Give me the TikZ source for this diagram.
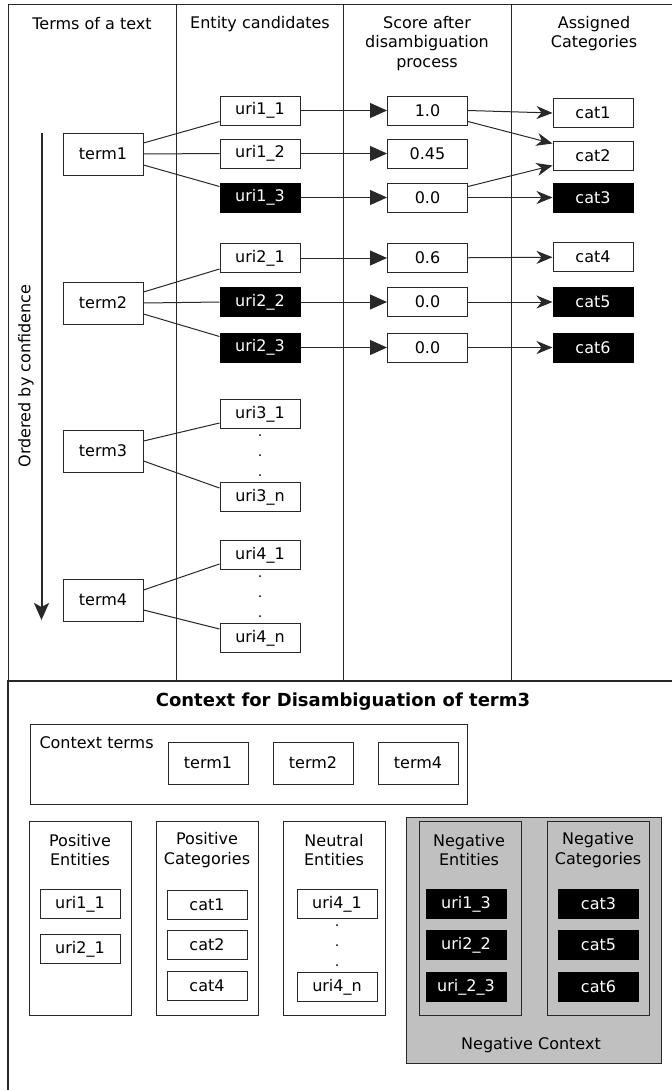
\documentclass[tikz,border=0pt]{standalone}
\usepackage{fontspec}
\setmainfont{DejaVu Sans}
\usetikzlibrary{positioning, arrows.meta}
\definecolor{negbg}{RGB}{192,192,192}
\definecolor{linegray}{RGB}{40,40,40}

\tikzset{
    box/.style={draw=linegray, fill=white, minimum width=80pt, minimum height=29pt, inner sep=0pt},
    blackbox/.style={box, draw=black, fill=black, text=white},
    termbox/.style={box, minimum height=42pt},
    colhead/.style={align=center, inner sep=0pt},
    tolink/.style={-{Triangle[length=17pt,width=15pt]}},
    catlink/.style={-{Stealth[length=16pt,width=13pt,inset=5pt]}}
}

\begin{document}
\begin{tikzpicture}[x=1pt, y=-1pt, font=\fontsize{16}{19.5}\selectfont, line width=1pt, draw=linegray]
    \useasboundingbox (0,0) rectangle (672,1090);

    % Tabella superiore
    \draw (8,4) rectangle (700,680);
    \foreach \x in {176,343,511} \draw (\x,4) -- (\x,680);
    \node[colhead] (hterms) at (92,24) {Terms of a text};
    \node[colhead] (hent) at (260,24) {Entity candidates};
    \node[colhead] (hscore) at (427,43.5) {Score after\\disambiguation\\process};
    \node[colhead] (hcat) at (594,33.5) {Assigned\\Categories};

    % Ordinamento
    \draw[line width=2pt, -{Stealth[length=17pt,width=15pt,inset=4pt]}] (41.5,133) -- (41.5,620);
    \node[rotate=90, inner sep=0pt] (order) at (26,376) {Ordered by confidence};

    % Termini
    \node[termbox] (term1) at (103,154) {term1};
    \node[termbox] (term2) at (103,303) {term2};
    \node[termbox] (term3) at (103,451) {term3};
    \node[termbox] (term4) at (103,600) {term4};

    % Candidati
    \node[box] (uri11) at (260,110.5) {uri1\_1};
    \node[box] (uri12) at (260,153.5) {uri1\_2};
    \node[blackbox] (uri13) at (260,197.5) {uri1\_3};
    \node[box] (uri21) at (260,258) {uri2\_1};
    \node[blackbox] (uri22) at (260,302) {uri2\_2};
    \node[blackbox] (uri23) at (260,347.5) {uri2\_3};
    \node[box] (uri31) at (260,414) {uri3\_1};
    \node[box] (uri3n) at (260,497) {uri3\_n};
    \node[box] (uri41) at (260,555) {uri4\_1};
    \node[box] (uri4n) at (260,638) {uri4\_n};
    \foreach \y in {435,455,475,576,596,616} \fill (260,\y) circle (1pt);

    % Punteggi
    \node[box] (s11) at (427.5,110.5) {1.0};
    \node[box] (s12) at (427.5,153.5) {0.45};
    \node[box] (s13) at (427.5,197.5) {0.0};
    \node[box] (s21) at (427.5,258) {0.6};
    \node[box] (s22) at (427.5,302) {0.0};
    \node[box] (s23) at (427.5,347.5) {0.0};

    % Categorie
    \node[box] (cat1) at (593,113) {cat1};
    \node[box] (cat2) at (593,155.5) {cat2};
    \node[blackbox] (cat3) at (593,197.5) {cat3};
    \node[box] (cat4) at (593,257) {cat4};
    \node[blackbox] (cat5) at (593,302) {cat5};
    \node[blackbox] (cat6) at (593,347.5) {cat6};

    % term -> uri
    \foreach \t/\a/\b/\c in {term1/uri11/uri12/uri13, term2/uri21/uri22/uri23} {
        \draw ([yshift=11pt]\t.east) -- ([yshift=-11pt]\a.west);
        \draw (\t.east) -- (\b.west);
        \draw ([yshift=-11pt]\t.east) -- ([yshift=11pt]\c.west);
    }
    \foreach \t/\a/\c in {term3/uri31/uri3n, term4/uri41/uri4n} {
        \draw ([yshift=10pt]\t.east) -- ([yshift=-9pt]\a.west);
        \draw ([yshift=-10pt]\t.east) -- ([yshift=9pt]\c.west);
    }

    % uri -> punteggio
    \foreach \u/\s in {uri11/s11, uri12/s12, uri13/s13, uri21/s21, uri22/s22, uri23/s23}
        \draw[tolink] (\u) -- (\s);

    % punteggio -> categoria
    \draw[catlink] (s11.east) -- (cat1.west);
    \draw[catlink] ([yshift=-11pt]s11.east) -- ([yshift=12pt]cat2.west);
    \draw[catlink] ([yshift=11pt]s13.east) -- ([yshift=-10pt]cat2.west);
    \draw[catlink] (s13) -- (cat3);
    \draw[catlink] (s21) -- (cat4);
    \draw[catlink] (s22) -- (cat5);
    \draw[catlink] (s23) -- (cat6);

    % Contesto
    \draw[line width=2.5pt] (8,681) rectangle (700,1110);
    \node[font=\fontsize{18}{22}\selectfont\bfseries] (ctxtitle) at (343,702) {Context for Disambiguation of term3};

    \draw (30,724) rectangle (467,804); % termini di contesto
    \node[anchor=west, inner sep=0pt] (ctxlabel) at (39,743) {Context terms};
    \node[termbox] (cterm1) at (208,763) {term1};
    \node[termbox] (cterm2) at (313,763) {term2};
    \node[termbox] (cterm4) at (418,763) {term4};

    \draw (29,821) rectangle (131,1015); % entita positive
    \node[colhead] (posent) at (80,850) {Positive\\Entities};
    \node[box] (puri11) at (80,904) {uri1\_1};
    \node[box] (puri21) at (80,949) {uri2\_1};

    \draw (156,821) rectangle (258,1015); % categorie positive
    \node[colhead] (poscat) at (207,850) {Positive\\Categories};
    \node[box] (pcat1) at (207,905) {cat1};
    \node[box] (pcat2) at (207,945) {cat2};
    \node[box] (pcat4) at (207,986) {cat4};

    \draw (283,821) rectangle (385,1015); % entita neutre
    \node[colhead] (neuent) at (334,850) {Neutral\\Entities};
    \node[box] (nuri41) at (337,904) {uri4\_1};
    \node[box] (nuri4n) at (337,987) {uri4\_n};
    \foreach \y in {925,945,965} \fill (337,\y) circle (1pt);

    \filldraw[fill=negbg] (406,817) rectangle (661,1063); % contesto negativo
    \node (negctx) at (531,1045) {Negative Context};
    \draw (419,821) rectangle (521,1015);
    \node[colhead] (negent) at (469,850) {Negative\\Entities};
    \node[blackbox] (nguri13) at (466,904) {uri1\_3};
    \node[blackbox] (nguri22) at (466,945) {uri2\_2};
    \node[blackbox] (nguri23) at (466,987) {uri\_2\_3};
    \draw (547,821) rectangle (649,1015);
    \node[colhead] (negcat) at (598,850) {Negative\\Categories};
    \node[blackbox] (ngcat3) at (598.5,904) {cat3};
    \node[blackbox] (ngcat5) at (598.5,945) {cat5};
    \node[blackbox] (ngcat6) at (598.5,987) {cat6};
\end{tikzpicture}
\end{document}
